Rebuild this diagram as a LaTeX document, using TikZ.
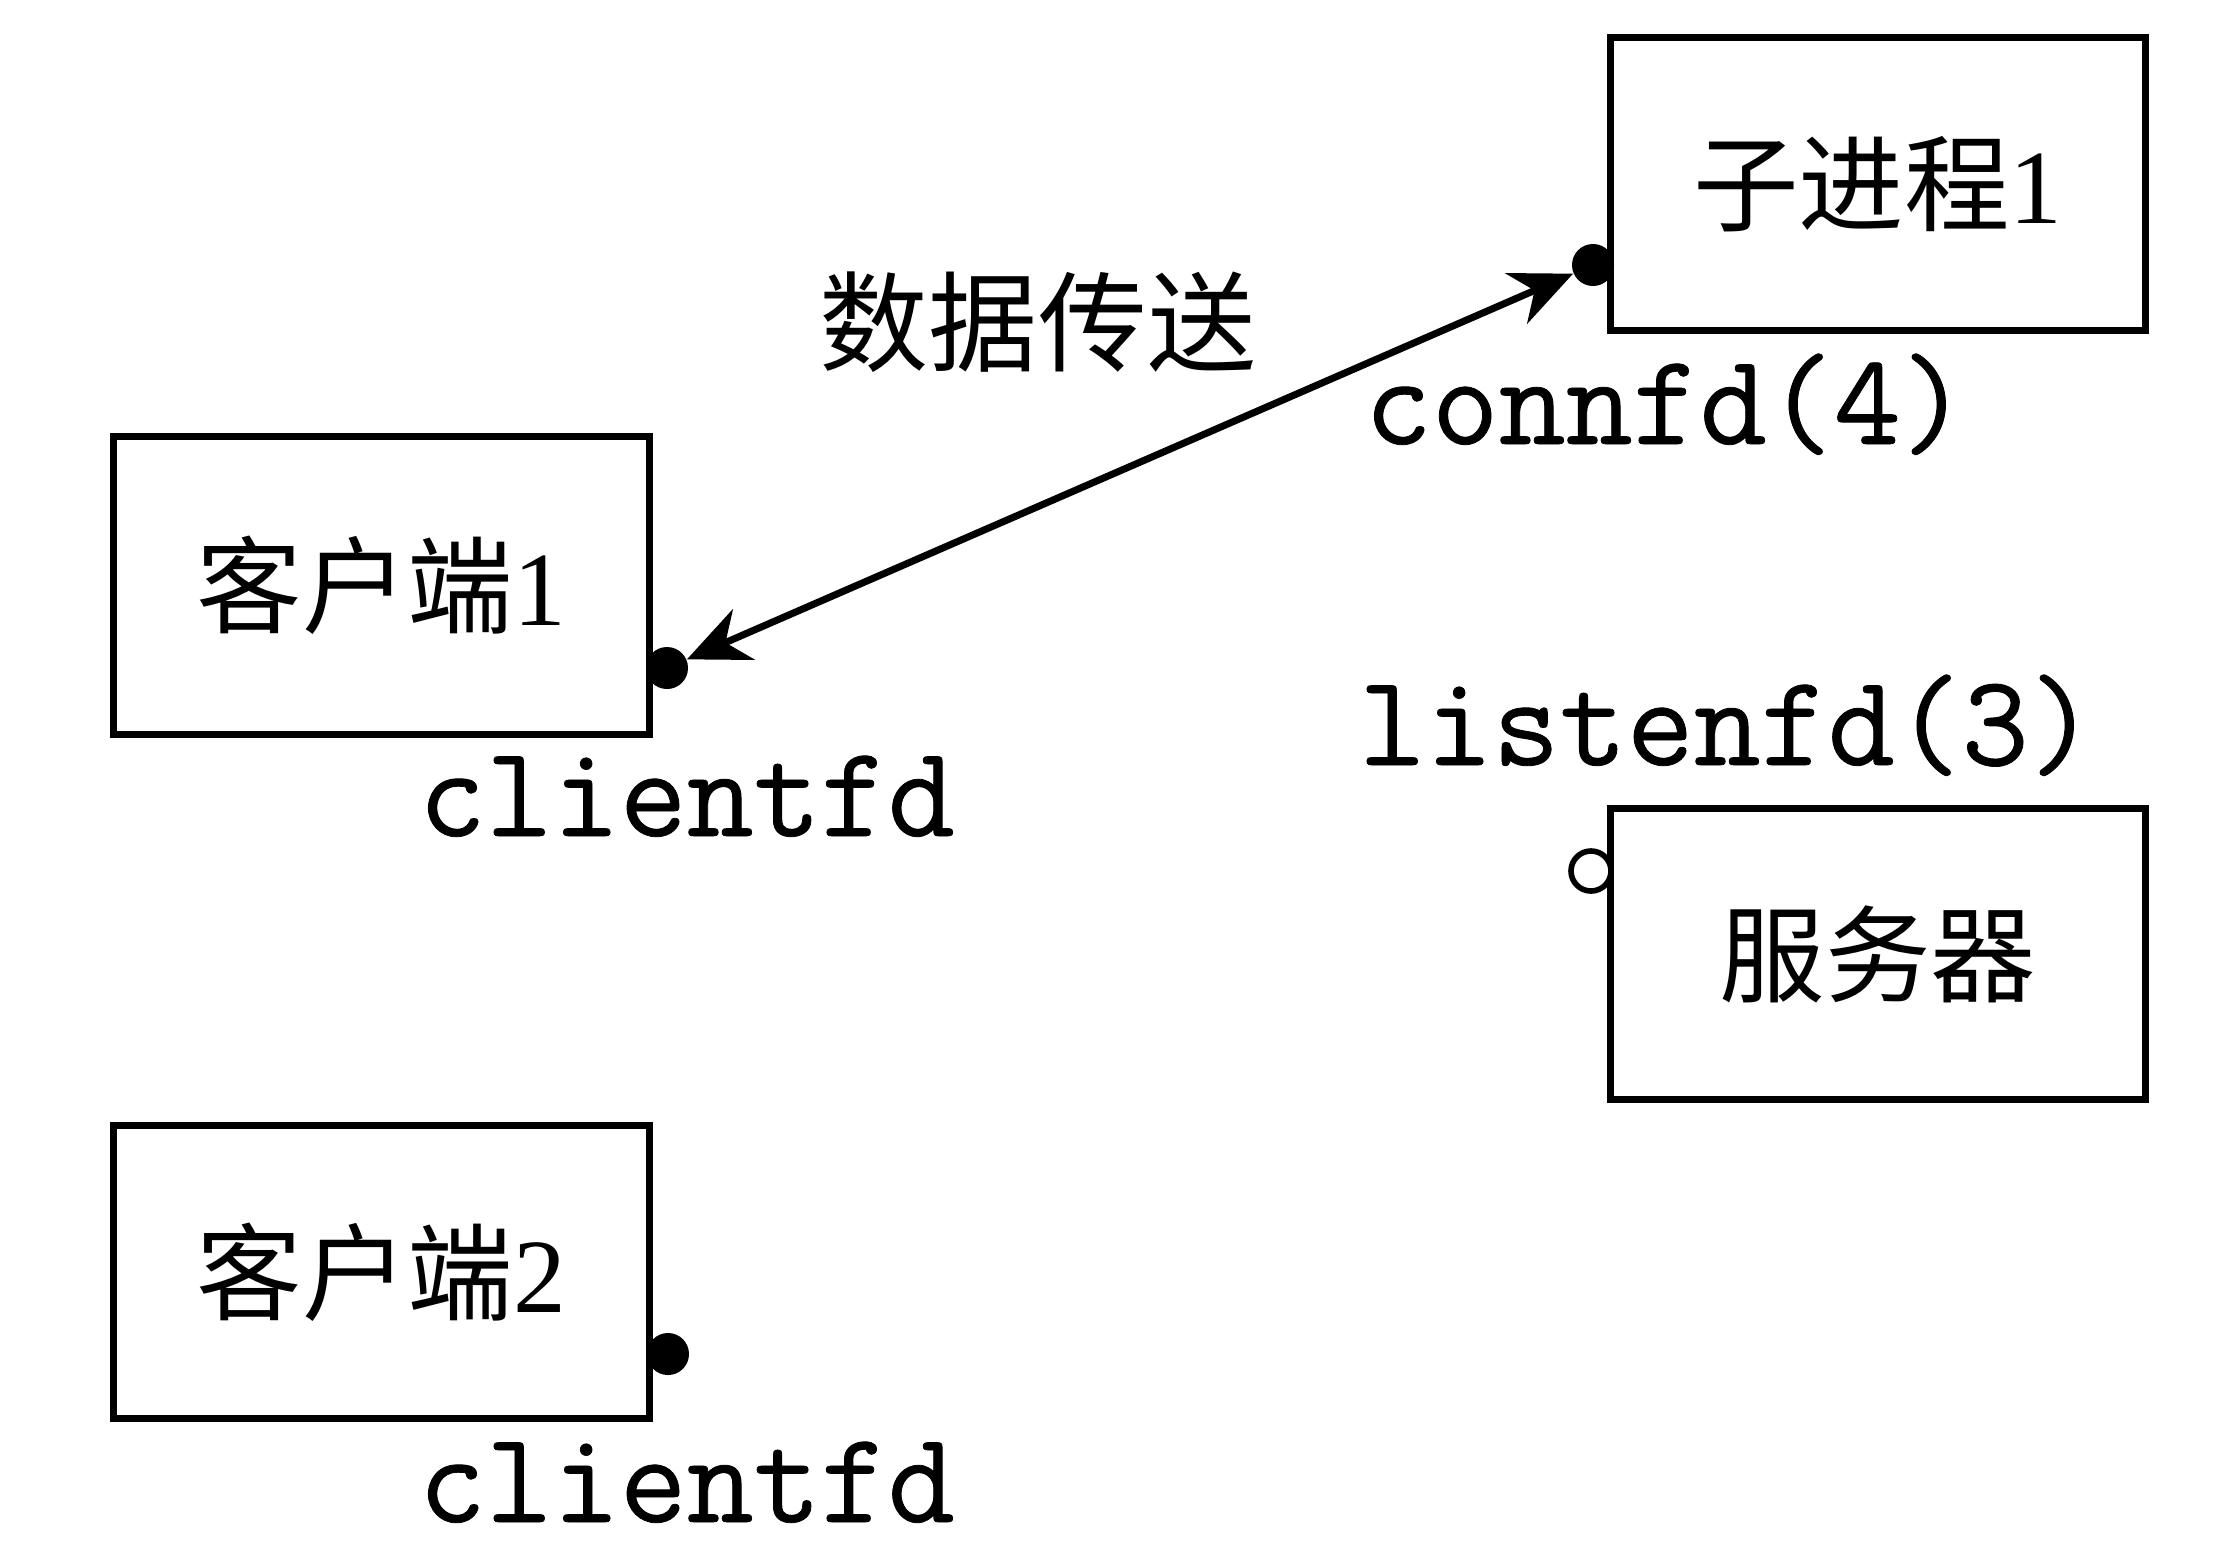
\documentclass[tikz,border=0pt]{standalone}
\usepackage{fontspec}
\setmainfont{Liberation Serif}
\newfontfamily\codefont{Latin Modern Mono}[FakeBold=0.6]
\newfontfamily\cjk{Noto Sans CJK SC}
\usetikzlibrary{arrows.meta}
\begin{document}
\begin{tikzpicture}[x=0.01cm,y=-0.01cm,
  box/.style={draw, line width=2pt, minimum width=5.35cm, inner sep=0pt,
    font=\fontsize{30}{36}\selectfont},
  fdlabel/.style={anchor=base west, inner sep=0pt, font=\fontsize{37}{40}\selectfont\codefont},
  fdot/.style={circle, fill, inner sep=0pt, minimum size=0.42cm},
  odot/.style={circle, draw, line width=1.6pt, fill=white, inner sep=0pt, minimum size=0.4cm},
  link/.style={line width=2pt, {Stealth[length=0.62cm, width=0.55cm, inset=0.2cm]}-{Stealth[length=0.62cm, width=0.55cm, inset=0.2cm]}}]
\useasboundingbox (0,0) rectangle (2230,1566);
\fill[white] (0,0) rectangle (2230,1566);

\node[box, minimum height=2.92cm] (child) at (1878,184) {{\cjk 子进程}1};
\node[box, minimum height=2.97cm] (client1) at (381.5,585.5) {{\cjk 客户端}1};
\node[box, minimum height=2.90cm] (server) at (1878,954) {\cjk 服务器};
\node[box, minimum height=2.92cm] (client2) at (381.5,1272) {{\cjk 客户端}2};

\node[fdot] (d1) at (667,668) {};
\node[fdot] (d2) at (668,1354) {};
\node[fdot] (d3) at (1593,265) {};
\node[odot] (d4) at (1591,871) {};

\draw[link] (d1) -- (d3);

\node[font=\fontsize{31}{36}\selectfont\cjk] (xfer) at (1038,322) {数据传送};
\node[fdlabel] (lc1) at (418,836) {clientfd};
\node[fdlabel] (lc2) at (418,1522) {clientfd};
\node[fdlabel] (lconn) at (1364,444) {connfd(4)};
\node[fdlabel] (llisten) at (1358,765) {listenfd(3)};
\end{tikzpicture}
\end{document}
